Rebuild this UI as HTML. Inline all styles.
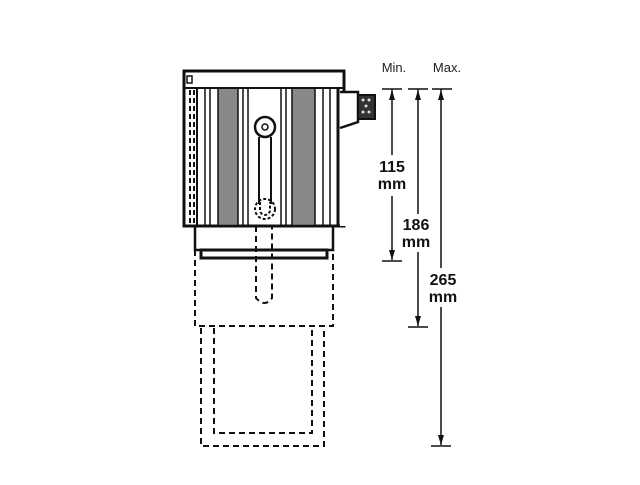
<!DOCTYPE html>
<html><head><meta charset="utf-8"><style>html,body{margin:0;padding:0;background:#fff}</style></head>
<body>
<svg width="640" height="480" viewBox="0 0 640 480" xmlns="http://www.w3.org/2000/svg" font-family="Liberation Sans, sans-serif">
<g stroke="#111" fill="none">
<!-- top strip and body -->
<rect x="184" y="71" width="160" height="155" stroke-width="3"/>
<line x1="184" y1="88" x2="344" y2="88" stroke-width="2"/>
<line x1="338" y1="88" x2="338" y2="226" stroke-width="3"/>
<rect x="340" y="89" width="8" height="137" fill="#fff" stroke="none"/>
<line x1="344" y1="71" x2="344" y2="92" stroke-width="3"/>
<!-- connector -->
<path d="M340 92 L358 92 L358 122 L340 128" stroke-width="2.5" fill="#fff"/>
<rect x="358" y="95" width="17" height="24" fill="#333" stroke-width="2"/>
<g fill="#ddd" stroke="none"><circle cx="363" cy="100" r="1.5"/><circle cx="369" cy="100" r="1.5"/><circle cx="366" cy="106" r="1.5"/><circle cx="363" cy="112" r="1.5"/><circle cx="369" cy="112" r="1.5"/></g>
<!-- left dashed strip -->
<line x1="197" y1="88" x2="197" y2="226" stroke-width="2"/>
<line x1="190" y1="90" x2="190" y2="224" stroke-width="2" stroke-dasharray="5,3"/>
<line x1="194" y1="90" x2="194" y2="224" stroke-width="2" stroke-dasharray="5,3"/>
<rect x="187" y="76" width="5" height="7" stroke-width="1.5"/>
<!-- shaded bands -->
<rect x="218" y="89" width="20" height="136" fill="#888" stroke="none"/>
<rect x="292" y="89" width="23" height="136" fill="#888" stroke="none"/>
<g stroke-width="1.5">
<line x1="205" y1="88" x2="205" y2="226"/><line x1="210" y1="88" x2="210" y2="226"/>
<line x1="218" y1="88" x2="218" y2="226"/><line x1="238" y1="88" x2="238" y2="226"/>
<line x1="243" y1="88" x2="243" y2="226"/><line x1="248" y1="88" x2="248" y2="226"/>
<line x1="281" y1="88" x2="281" y2="226"/><line x1="286" y1="88" x2="286" y2="226"/>
<line x1="292" y1="88" x2="292" y2="226"/><line x1="315" y1="88" x2="315" y2="226"/>
<line x1="323" y1="88" x2="323" y2="226"/><line x1="330" y1="88" x2="330" y2="226"/>
</g>
<!-- knob & slot -->
<circle cx="265" cy="127" r="10" stroke-width="2.5" fill="#fff"/>
<circle cx="265" cy="127" r="3" stroke-width="1.5"/>
<line x1="259" y1="137" x2="259" y2="204" stroke-width="2"/>
<line x1="271" y1="137" x2="271" y2="204" stroke-width="2"/>
<circle cx="265" cy="209" r="10" stroke-width="2" stroke-dasharray="3,2"/>
<path d="M260 202 L260 210 A5 5 0 0 0 270 210 L270 202" stroke-width="2" stroke-dasharray="3,2"/>
<!-- base -->
<rect x="195" y="226" width="138" height="24" stroke-width="2.5"/>
<rect x="201" y="250" width="126" height="8" stroke-width="3"/>
<!-- dashed parts -->
<g stroke-width="2" stroke-dasharray="6,4">
<path d="M195 250 L195 326 L333 326 L333 250"/>
<path d="M256 226 L256 298 Q265 308 272 298 L272 226"/>
<path d="M201 328 L201 446 L324 446 L324 328"/>
<path d="M214 328 L214 433 L312 433 L312 328"/>
</g>
<!-- dimensions -->
<g stroke-width="1.5">
<line x1="382" y1="89" x2="402" y2="89"/><line x1="408" y1="89" x2="428" y2="89"/><line x1="432" y1="89" x2="452" y2="89"/>
<line x1="392" y1="89" x2="392" y2="155"/><line x1="392" y1="196" x2="392" y2="260"/><line x1="382" y1="261" x2="402" y2="261"/>
<line x1="418" y1="89" x2="418" y2="214"/><line x1="418" y1="252" x2="418" y2="326"/><line x1="408" y1="327" x2="428" y2="327"/>
<line x1="441" y1="89" x2="441" y2="268"/><line x1="441" y1="307" x2="441" y2="445"/><line x1="431" y1="446" x2="451" y2="446"/>
</g>
</g>
<g fill="#111">
<path d="M392 90 l-3 10 h6z M392 260 l-3 -10 h6z M418 90 l-3 10 h6z M418 326 l-3 -10 h6z M441 90 l-3 10 h6z M441 445 l-3 -10 h6z"/>
</g>
<g font-size="13" fill="#222" text-anchor="middle">
<text x="394" y="72">Min.</text><text x="447" y="72">Max.</text>
</g>
<g font-size="16" font-weight="bold" fill="#111" text-anchor="middle">
<text x="392" y="172">115</text><text x="392" y="189">mm</text>
<text x="416" y="230">186</text><text x="416" y="247">mm</text>
<text x="443" y="285">265</text><text x="443" y="302">mm</text>
</g>
</svg>
</body></html>
